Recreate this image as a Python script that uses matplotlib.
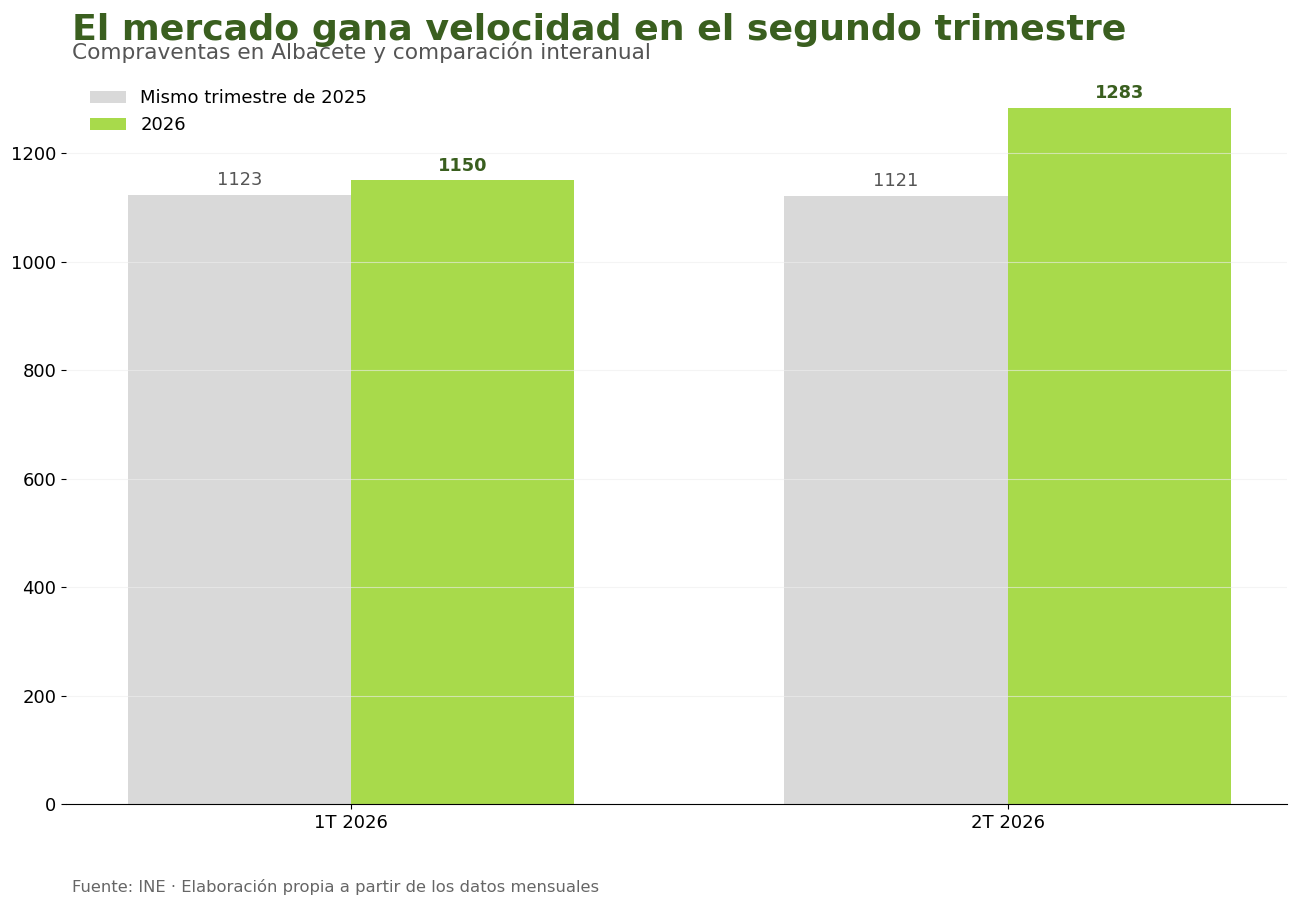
import matplotlib.pyplot as plt
import numpy as np

# Datos
trimestres = ['1T 2026', '2T 2026']
previo = [1123, 1121]
actual = [1150, 1283]
etiquetas = ['Mismo trimestre de 2025', '2026']

gris = '#d9d9d9'
verde = '#a8da4b'
verde_osc = '#3a5f1f'

fig = plt.figure(figsize=(13, 9.09), dpi=100)
ax = fig.add_axes([0.0508, 0.1155, 0.939, 0.804])

x = np.arange(len(trimestres))
w = 0.34
b1 = ax.bar(x - w / 2, previo, w, color=gris, label=etiquetas[0])
b2 = ax.bar(x + w / 2, actual, w, color=verde, label=etiquetas[1])

for r, v in zip(b1, previo):
    ax.annotate(str(v), (r.get_x() + r.get_width() / 2, v), xytext=(0, 4),
                textcoords='offset points', ha='center', va='bottom',
                fontsize=12.8, color='#555555')
for r, v in zip(b2, actual):
    ax.annotate(str(v), (r.get_x() + r.get_width() / 2, v), xytext=(0, 4),
                textcoords='offset points', ha='center', va='bottom',
                fontsize=12.8, color=verde_osc, fontweight='bold')

ax.set_xticks(x)
ax.set_xticklabels(trimestres)
ax.set_xlim(-0.434, 1.425)
ax.set_ylim(0, max(actual) * 1.05)
ax.tick_params(labelsize=13)
ax.grid(axis='y', color='#eeeeee', alpha=0.6, linewidth=0.8)
for s in ['top', 'right', 'left']:
    ax.spines[s].set_visible(False)

ax.legend(loc='upper left', bbox_to_anchor=(0.006, 1), frameon=False, fontsize=13)

fig.text(0.0555, 0.967, 'El mercado gana velocidad en el segundo trimestre',
         fontsize=26.2, fontweight='bold', color=verde_osc, va='center')
fig.text(0.0555, 0.942, 'Compraventas en Albacete y comparación interanual',
         fontsize=15.6, color='#555555', va='center')
fig.text(0.0555, 0.024, 'Fuente: INE · Elaboración propia a partir de los datos mensuales',
         fontsize=11.8, color='#666666', va='center')

fig.savefig('out.png', dpi=100)
